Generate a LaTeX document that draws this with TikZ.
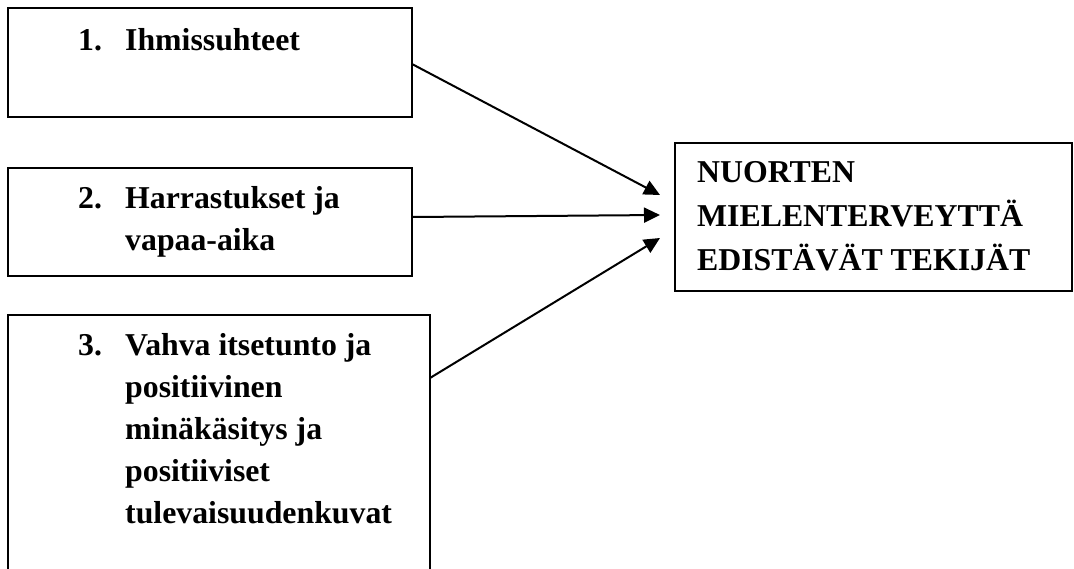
\documentclass[tikz,border=0pt]{standalone}
\usepackage{fontspec}
\setmainfont{Liberation Serif}
\usetikzlibrary{arrows.meta}
\begin{document}
\begin{tikzpicture}[x=1pt,y=-1pt,
  box/.style={draw,line width=2.5pt,rectangle,inner sep=0pt,outer sep=0pt,anchor=north west},
  txt/.style={anchor=base west,inner sep=0pt,align=left,font=\fontsize{31.8}{42}\selectfont\bfseries},
  conn/.style={line width=2pt,-{Triangle[length=16pt,width=15pt]}}]
\useasboundingbox (0,0) rectangle (1074,568);
\clip (0,0) rectangle (1074,568);
\node[box,minimum width=404pt,minimum height=109pt] (b1) at (8,8) {};
\node[box,minimum width=404pt,minimum height=108pt] (b2) at (8,168) {};
\node[box,minimum width=422pt,minimum height=264pt] (b3) at (8,315) {};
\node[box,minimum width=397pt,minimum height=148pt] (b4) at (675,143) {};
\node[txt] (t1) at (78,50) {\makebox[47pt][l]{1.}Ihmissuhteet};
\node[txt] (t2) at (78,250) {\makebox[47pt][l]{2.}Harrastukset ja\\\hspace*{47pt}vapaa-aika};
\node[txt] (t3) at (78,523) {\makebox[47pt][l]{3.}Vahva itsetunto ja\\\hspace*{47pt}positiivinen\\\hspace*{47pt}minäkäsitys ja\\\hspace*{47pt}positiiviset\\\hspace*{47pt}tulevaisuudenkuvat};
\node[txt,font=\fontsize{31.8}{44}\selectfont\bfseries] (t4) at (697,270) {NUORTEN\\MIELENTERVEYTTÄ\\EDISTÄVÄT TEKIJÄT};
\coordinate (e1) at ([xshift=-15pt,yshift=22pt]b4.west);
\coordinate (e2) at ([xshift=-15pt,yshift=2pt]b4.west);
\coordinate (e3) at ([xshift=-15pt,yshift=-21pt]b4.west);
\draw[conn] ([yshift=-1.5pt]b1.east) -- (e1);
\draw[conn] ([yshift=5pt]b2.east) -- (e2);
\draw[conn] ([yshift=-63pt]b3.north east) -- (e3);
\end{tikzpicture}
\end{document}
